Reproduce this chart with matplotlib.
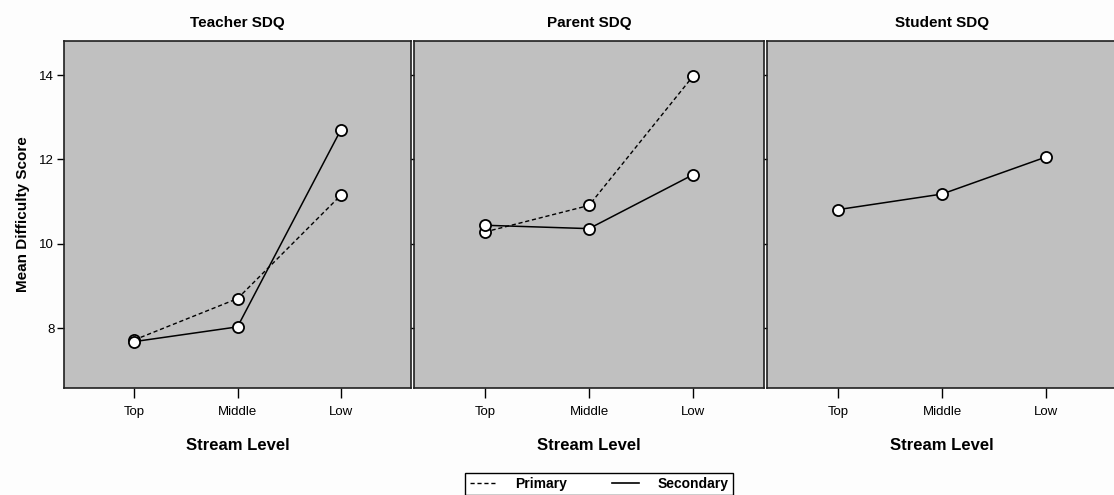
import numpy as np
import matplotlib
matplotlib.use('Agg')
import matplotlib.pyplot as plt
from matplotlib.lines import Line2D

plt.rcParams['font.family'] = ['Liberation Sans', 'DejaVu Sans']

levels = ['Top', 'Middle', 'Low']
panels = ['Teacher SDQ', 'Parent SDQ', 'Student SDQ']

teacher_primary = [7.72, 8.70, 11.15]
teacher_secondary = [7.68, 8.03, 12.70]
parent_primary = [10.28, 10.91, 13.98]
parent_secondary = [10.44, 10.36, 11.64]
student_secondary = [10.81, 11.18, 12.06]

series = [
    (teacher_primary, teacher_secondary),
    (parent_primary, parent_secondary),
    (None, student_secondary),
]

W, H = 1114, 495
fig = plt.figure(figsize=(W / 100, H / 100), dpi=100)
fig.patch.set_facecolor('#fdfdfd')

# panel rects in pixels: left, top, width, height
rects = [(64, 41, 347, 347), (414, 41, 350, 347), (767, 41, 350, 347)]

x = np.arange(len(levels))
for i, (rect, title, (prim, sec)) in enumerate(zip(rects, panels, series)):
    l, t, w, h = rect
    ax = fig.add_axes([l / W, 1 - (t + h) / H, w / W, h / H])
    ax.set_facecolor('#c0c0c0')
    if prim is not None:
        ax.plot(x, prim, color='black', lw=1.0, ls=(0, (3, 2)), marker='o', ms=8,
                mfc='white', mec='black', mew=1.3)
    ax.plot(x, sec, color='black', lw=1.1, ls='-', marker='o', ms=8,
            mfc='white', mec='black', mew=1.3)
    ax.set_xlim(-0.68, 2.68)
    ax.set_ylim(6.58, 14.81)
    ax.set_xticks(x)
    ax.set_xticklabels(levels, fontsize=9.5)
    ax.set_yticks([8, 10, 12, 14])
    ax.tick_params(axis='x', length=7, width=1, direction='out', pad=6)
    if i == 0:
        ax.tick_params(axis='y', length=5, width=1, direction='out', labelsize=9.5, pad=2)
        ax.set_ylabel('Mean Difficulty Score', fontsize=11, fontweight='bold', labelpad=7)
    else:
        ax.tick_params(axis='y', length=2, width=1, direction='out', labelleft=False)
    for s in ax.spines.values():
        s.set_linewidth(1.2)
        s.set_color('#202020')
    ax.set_title(title, fontsize=11, fontweight='bold', pad=10)
    ax.set_xlabel('Stream Level', fontsize=12, fontweight='bold', labelpad=14)

handles = [Line2D([0], [0], color='black', lw=1.0, ls=(0, (3, 2))),
           Line2D([0], [0], color='black', lw=1.2, ls='-')]
leg = fig.legend(handles, ['Primary', 'Secondary'], loc='upper center',
                 bbox_to_anchor=(599 / W, 1 - 466 / H), ncol=2, frameon=True,
                 fancybox=False, framealpha=1, edgecolor='black',
                 prop={'weight': 'bold', 'size': 10}, handlelength=2.0,
                 handletextpad=1.3, columnspacing=3.2, borderpad=0.3)
leg.get_frame().set_linewidth(1.0)

fig.savefig('out.png', dpi=100, facecolor=fig.get_facecolor())
